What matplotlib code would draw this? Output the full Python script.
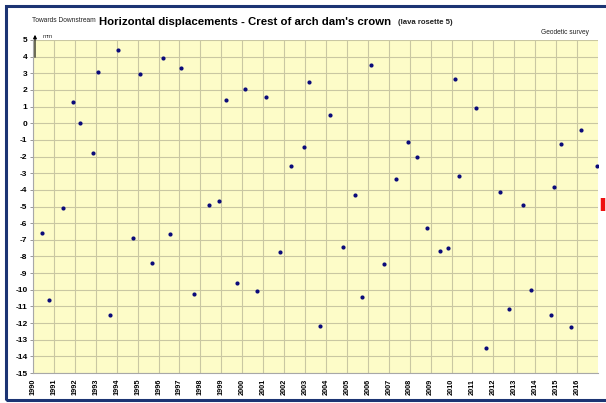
import matplotlib
matplotlib.use("Agg")
import matplotlib.pyplot as plt
from matplotlib.patches import Rectangle

# ─── Data ────────────────────────────────────────────────────────────────────
survey_dates = [
    1990.45, 1990.75, 1991.44, 1991.93, 1992.25, 1992.86, 1993.10, 1993.67,
    1994.08, 1994.77, 1995.09, 1995.69, 1996.19, 1996.56, 1997.08, 1997.69,
    1998.42, 1998.87, 1999.23, 1999.75, 2000.11, 2000.72, 2001.15, 2001.82,
    2002.31, 2002.93, 2003.19, 2003.72, 2004.21, 2004.83, 2005.41, 2005.72,
    2006.16, 2006.78, 2007.34, 2007.94, 2008.34, 2008.84, 2009.46, 2009.82,
    2010.18, 2010.38, 2011.17, 2011.67, 2012.30, 2012.74, 2013.40, 2013.80,
    2014.74, 2014.91, 2015.23, 2015.71, 2016.20, 2016.94,
]
displacement_mm = [
    -6.6, -10.6, -5.1, 1.25, 0.0, -1.8, 3.05, -11.5,
    4.4, -6.9, 2.95, -8.4, 3.9, -6.65, 3.3, -10.25,
    -4.9, -4.65, 1.4, -9.6, 2.05, -10.1, 1.55, -7.75,
    -2.55, -1.45, 2.5, -12.2, 0.5, -7.45, -4.3, -10.45,
    3.5, -8.45, -3.35, -1.15, -2.0, -6.3, -7.7, -7.5,
    2.65, -3.15, 0.9, -13.5, -4.15, -11.15, -4.9, -10.0,
    -11.5, -3.8, -1.25, -12.25, -0.4, -2.55,
]
last_reading_mm = -4.88          # red marker on the right edge

years = list(range(1990, 2017))
y_ticks = list(range(-15, 6))

# ─── Figure ──────────────────────────────────────────────────────────────────
W, H = 606, 403
fig = plt.figure(figsize=(W / 100, H / 100), dpi=100)
fig.patch.set_facecolor("white")
plt.rcParams["font.family"] = ["Liberation Sans", "DejaVu Sans"]

# navy frame around the chart
fig.patches.append(Rectangle((6 / W, 3 / H), 1.2, 394 / H,
                             transform=fig.transFigure, fill=False,
                             edgecolor="#1c3473", linewidth=2.2))

ax = fig.add_axes([33 / W, (H - 373) / H, (598 - 33) / W, (373 - 40) / H])
ax.set_facecolor("#fdfcc8")

ax.scatter(survey_dates, displacement_mm, s=9, color="#0b0b7a", zorder=3,
           linewidths=0)

ax.set_xlim(1990, 2017)
ax.set_ylim(-15, 5)
ax.set_xticks(years)
ax.set_xticklabels([str(y) for y in years], rotation=90, fontsize=5.3,
                   fontweight="bold")
ax.set_yticks(y_ticks)
ax.set_yticklabels([str(v) for v in y_ticks], fontsize=6, fontweight="bold")
ax.tick_params(axis="both", length=2, width=0.6, color="#888888", pad=2)
ax.tick_params(axis="x", length=0, pad=4)
ax.grid(True, color="#c9c7a2", linewidth=0.8)
ax.set_axisbelow(True)
for side in ["top", "right"]:
    ax.spines[side].set_visible(False)
ax.spines["left"].set_color("#a8a8a8")
ax.spines["bottom"].set_color("#a8a8a8")

# red marker of the latest reading
ax.plot([1.008, 1.008], [last_reading_mm - 0.4, last_reading_mm + 0.4],
        transform=ax.get_yaxis_transform(), color="#ee1111", linewidth=3.2,
        solid_capstyle="butt", clip_on=False)

# mm arrow
ax.annotate("", xy=(35 / W, (H - 32) / H), xytext=(35 / W, (H - 60) / H),
            xycoords="figure fraction", textcoords="figure fraction",
            arrowprops=dict(arrowstyle="-|>", color="black", lw=0.8,
                            mutation_scale=5))
fig.text(43 / W, (H - 37) / H, "mm", fontsize=4.5, va="center", color="#333333")

# titles
fig.text(32 / W, (H - 20) / H, "Towards Downstream", fontsize=4.8,
         va="center", color="#222222")
fig.text(99 / W, (H - 22) / H, "Horizontal displacements - Crest of arch dam's crown",
         fontsize=8.2, fontweight="bold", va="center")
fig.text(398 / W, (H - 22) / H, "(Iava rosette 5)", fontsize=5.6,
         fontweight="bold", va="center", color="#222222")
fig.text(589 / W, (H - 33) / H, "Geodetic survey", fontsize=4.8,
         ha="right", va="center", color="#222222")

fig.savefig("out.png", dpi=100)
